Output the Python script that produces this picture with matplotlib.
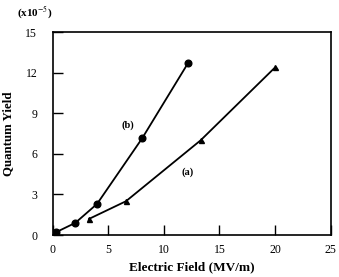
import matplotlib
matplotlib.use("Agg")
import matplotlib.pyplot as plt

# curve (b): circles
field_b = [0.3, 2.05, 4.0, 8.05, 12.2]
yield_b = [0.2, 0.9, 2.3, 7.15, 12.75]

# curve (a): triangles
field_a = [3.3, 6.6, 13.3, 20.0]
yield_a = [1.2, 2.5, 7.0, 12.4]

x_ticks = [0, 5, 10, 15, 20, 25]
y_ticks = [0, 3, 6, 9, 12, 15]

plt.rcParams["font.family"] = ["Liberation Serif", "DejaVu Serif"]
plt.rcParams["mathtext.fontset"] = "stix"

fig = plt.figure(figsize=(3.39, 2.77), dpi=100)
ax = fig.add_axes([0.155, 0.1516, 0.8205, 0.7318])

ax.plot(field_b, yield_b, color="black", linewidth=1.3, marker="o", markersize=4.8)
ax.plot(field_a, yield_a, color="black", linewidth=1.3, marker="^", markersize=3.6)

ax.text(6.8, 8.1, "(b)", fontsize=7.5, fontweight="bold", ha="center", va="center")
ax.text(12.1, 4.65, "(a)", fontsize=7.5, fontweight="bold", ha="center", va="center")

ax.set_xlim(0, 25)
ax.set_ylim(0, 15)
ax.set_xticks(x_ticks)
ax.set_yticks(y_ticks)
ax.tick_params(direction="in", length=7, width=1, labelsize=8.5)
ax.tick_params(axis="x", pad=6.5)
ax.tick_params(axis="y", pad=11)
for spine in ax.spines.values():
    spine.set_linewidth(1.2)

ax.set_xlabel("Electric Field (MV/m)", fontsize=9.5, fontweight="bold", labelpad=4)
ax.set_ylabel("Quantum Yield", fontsize=9.3, fontweight="bold", labelpad=8)
fig.text(0.05, 0.952, r"(x10$^{-5}$)", fontsize=8, fontweight="bold", va="center")

fig.savefig("out.png", dpi=100)
